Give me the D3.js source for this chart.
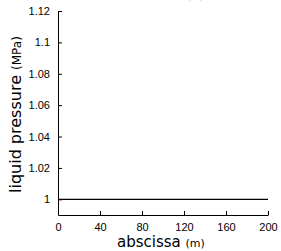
<!DOCTYPE html>
<html>
<head>
<meta charset="utf-8">
<script src="https://cdn.jsdelivr.net/npm/d3@7"></script>
<style>
    body { margin: 0; background: #fff; }
    svg { display: block; font-family: "DejaVu Sans", sans-serif; }
</style>
</head>
<body>
<div id="chart"></div>
<script>
// values
const abscissa = [0, 40, 80, 120, 160, 200];
const pressure = [1, 1, 1, 1, 1, 1];
const x_ticks = [0, 40, 80, 120, 160, 200];
const y_ticks = [1, 1.02, 1.04, 1.06, 1.08, 1.1, 1.12];
const y_tick_labels = ['1', '1.02', '1.04', '1.06', '1.08', '1.1', '1.12'];

let dims = {
    width: 281,
    height: 251,
    left: 58,
    right: 268,
    top: 11,
    bottom: 215,
};

let svg = d3.select('#chart')
    .append('svg')
    .attr('width', dims.width)
    .attr('height', dims.height);

const x = d3.scaleLinear()
    .domain([0, 200])
    .range([dims.left, dims.right]);

const y = d3.scaleLinear()
    .domain([0.99, 1.12])
    .range([dims.bottom, dims.top]);

// title, mostly clipped off the top
svg.append('text')
    .attr('x', 162)
    .attr('y', -1)
    .attr('text-anchor', 'middle')
    .attr('font-size', 14)
    .attr('fill', '#aaa')
    .text('time = 0 (s)');

let x_axis = svg.append('g')
    .attr('transform', `translate(0, ${dims.bottom})`)
    .call(d3.axisBottom(x)
        .tickValues(x_ticks)
        .tickSizeInner(-4)
        .tickSizeOuter(0)
        .tickPadding(8)
        .tickFormat(d3.format('d')));
x_axis.selectAll('text').attr('font-size', 11).attr('fill', '#000');
x_axis.selectAll('line, path').attr('stroke', '#000');

let y_axis = svg.append('g')
    .attr('transform', `translate(${dims.left}, 0)`)
    .call(d3.axisLeft(y)
        .tickValues(y_ticks)
        .tickSizeInner(-4)
        .tickSizeOuter(0)
        .tickPadding(8)
        .tickFormat((d, i) => y_tick_labels[i]));
y_axis.selectAll('text').attr('font-size', 11).attr('fill', '#000');
y_axis.selectAll('line, path').attr('stroke', '#000');

// x axis label
let xl = svg.append('text')
    .attr('x', 117)
    .attr('y', 247)
    .attr('fill', '#000');
xl.append('tspan').attr('font-size', 15).text('abscissa ');
xl.append('tspan').attr('font-size', 11).text('(m)');

// y axis label
let yl = svg.append('text')
    .attr('transform', 'translate(21, 193) rotate(-90)')
    .attr('fill', '#000');
yl.append('tspan').attr('font-size', 16).text('liquid pressure ');
yl.append('tspan').attr('font-size', 12).text('(MPa)');

const points = abscissa.map((a, i) => ({ x: a, y: pressure[i] }));
svg.append('path')
    .datum(points)
    .attr('fill', 'none')
    .attr('stroke', '#000')
    .attr('stroke-width', 1.2)
    .attr('d', d3.line()
        .x((d) => x(d.x))
        .y((d) => y(d.y)));
</script>
</body>
</html>
